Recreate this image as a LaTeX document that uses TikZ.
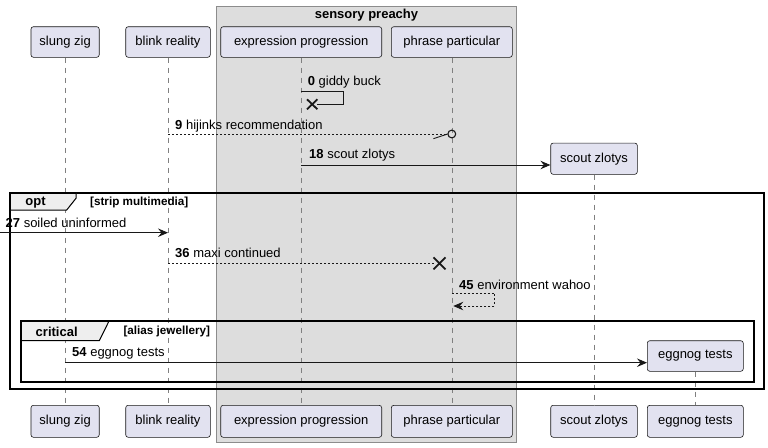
\documentclass[tikz,border=0pt]{standalone}
\usepackage{fontspec}
\setmainfont{Liberation Sans}
\usetikzlibrary{arrows.meta}
\definecolor{partfill}{HTML}{E2E2F0}
\definecolor{partline}{HTML}{181818}
\definecolor{groupfill}{HTML}{DDDDDD}
\definecolor{groupline}{HTML}{8C8C8C}
\definecolor{tabfill}{HTML}{EEEEEE}
\definecolor{lifecol}{HTML}{808080}
\tikzset{
  part/.style={draw=partline, fill=partfill, rounded corners=2.5pt, line width=0.6pt,
    inner sep=0pt, font=\fontsize{13}{15}\selectfont, text=black},
  life/.style={draw=lifecol, dash pattern=on 5pt off 5pt, line width=0.6pt},
  msg/.style={draw=partline, line width=0.9pt},
  arr/.style={-{Stealth[length=10pt,width=8.5pt,inset=3.5pt]}},
  dsh/.style={dash pattern=on 2pt off 2pt},
  lbl/.style={anchor=west, inner sep=0pt, font=\fontsize{13}{15}\selectfont},
  frame/.style={draw=black, line width=1.8pt},
  tabshape/.style={fill=tabfill, draw=black, line width=1pt},
  cross/.style={draw=partline, line width=1.8pt},
  cond/.style={anchor=west, inner sep=0pt, font=\bfseries\fontsize{11.7}{13}\selectfont},
}
\begin{document}
\begin{tikzpicture}[x=1pt,y=-1pt]
\useasboundingbox (0,0) rectangle (768,447);
% group box
\filldraw[fill=groupfill, draw=groupline, line width=0.8pt] (216.7,6.7) rectangle (516.3,442.3);
\node[inner sep=0pt, font=\bfseries\fontsize{13}{15}\selectfont] (gt) at (366.5,15) {sensory preachy};

% participants top
\node[part, minimum width=68.3pt, minimum height=30.6pt] (sz1) at (65.1,42) {slung zig};
\node[part, minimum width=84.6pt, minimum height=30.6pt] (br1) at (168,42) {blink reality};
\node[part, minimum width=161pt, minimum height=30.6pt] (ep1) at (301.2,42) {expression progression};
\node[part, minimum width=121pt, minimum height=30.6pt] (pp1) at (451.8,42) {phrase particular};
\node[part, minimum width=86.6pt, minimum height=31.3pt] (sc1) at (594,158.7) {scout zlotys};
\node[part, minimum width=96pt, minimum height=30.6pt] (eg1) at (695.3,356) {eggnog tests};
% participants bottom
\node[part, minimum width=68.3pt, minimum height=32pt] (sz2) at (65.1,421.3) {slung zig};
\node[part, minimum width=84.6pt, minimum height=32pt] (br2) at (168,421.3) {blink reality};
\node[part, minimum width=161pt, minimum height=32pt] (ep2) at (301.2,421.3) {expression progression};
\node[part, minimum width=121pt, minimum height=32pt] (pp2) at (451.8,421.3) {phrase particular};
\node[part, minimum width=86.6pt, minimum height=32pt] (sc2) at (594,421.3) {scout zlotys};
\node[part, minimum width=96pt, minimum height=32pt] (eg2) at (695.3,421.3) {eggnog tests};

% lifelines
\draw[life] (sz1.south) -- (sz2.north);
\draw[life] (br1.south) -- (br2.north);
\draw[life] (ep1.south) -- (ep2.north);
\draw[life] (pp1.south) -- (pp2.north);
\draw[life] (sc1.south) -- (sc2.north);
\draw[life] (eg1.south) -- (eg2.north);

% row helpers
\coordinate (r0a) at (0,91.7);
\coordinate (r0b) at (0,104.3);
\coordinate (r9) at (0,134);
\coordinate (r18) at (0,165);
\coordinate (r27) at (0,232.7);
\coordinate (r36) at (0,263.3);
\coordinate (r45a) at (0,293.3);
\coordinate (r45b) at (0,306);
\coordinate (r54) at (0,362.7);

% 0 giddy buck (self, destroy)
\coordinate (m0s) at (ep1 |- r0a);
\coordinate (m0r1) at (343.3,91.7);
\coordinate (m0r2) at (343.3,104.3);
\coordinate (m0x) at (312.2,104.3);
\draw[msg] (m0s) -- (m0r1) -- (m0r2) -- ([xshift=5pt]m0x);
\draw[cross] ([shift={(-5.2,-5)}]m0x) -- ([shift={(5.2,5)}]m0x)
             ([shift={(-5.2,5)}]m0x) -- ([shift={(5.2,-5)}]m0x);
\node[lbl] (l0) at (307.6,81.7) {\textbf{0} giddy buck};

% 9 hijinks recommendation
\coordinate (m9s) at (br1 |- r9);
\coordinate (m9e) at (pp1 |- r9);
\draw[msg, dsh, line width=0.8pt] (m9s) -- ([xshift=-4.5pt]m9e);
\draw[msg, line width=0.9pt] ([shift={(-18.4,4.7)}]m9e) -- ([xshift=-4.2pt]m9e);
\draw[draw=partline, line width=1.1pt] (m9e) circle[radius=3.9pt];
\node[lbl] (l9) at (175,126) {\textbf{9} hijinks recommendation};

% 18 scout zlotys
\coordinate (m18s) at (ep1 |- r18);
\draw[msg, arr] (m18s) -- (sc1.west |- r18);
\node[lbl] (l18) at (309,155.3) {\textbf{18} scout zlotys};

% opt frame
\draw[frame] (10,192.7) rectangle (764,389.3);
\filldraw[tabshape] (10,192.7) -- (76,192.7) -- (76,198.3) -- (66.7,210) -- (10,210) -- cycle;
\draw[frame] (10,192.7) -- (76,192.7) (10,192.7) -- (10,210);
\node[inner sep=0pt, font=\bfseries\fontsize{13}{15}\selectfont] (opt) at (35.5,202.5) {opt};
\node[cond] (optc) at (90,202.3) {[strip multimedia]};

% 27 soiled uninformed
\coordinate (m27s) at (0,232.7);
\draw[msg, arr] (m27s) -- (br1 |- r27);
\node[lbl] (l27) at (5.5,223.3) {\textbf{27} soiled uninformed};

% 36 maxi continued
\coordinate (m36s) at (br1 |- r36);
\coordinate (m36x) at (439.5,263.3);
\draw[msg, dsh, line width=0.8pt] (m36s) -- ([xshift=-6pt]m36x);
\draw[cross] ([shift={(-6,-6)}]m36x) -- ([shift={(6,6)}]m36x)
             ([shift={(-6,6)}]m36x) -- ([shift={(6,-6)}]m36x);
\node[lbl] (l36) at (175,253.3) {\textbf{36} maxi continued};

% 45 environment wahoo
\coordinate (m45s) at (pp1 |- r45a);
\coordinate (m45e) at (pp1 |- r45b);
\coordinate (m45r1) at (494.7,293.3);
\coordinate (m45r2) at (494.7,306);
\draw[msg, dsh, line width=0.8pt] (m45s) -- (m45r1) -- (m45r2) -- ([xshift=9pt]m45e);
\draw[msg, arr] ([xshift=10pt]m45e) -- ([xshift=1.5pt]m45e);
\node[lbl] (l45) at (459,285.3) {\textbf{45} environment wahoo};

% critical frame
\draw[frame] (20.7,320.7) rectangle (754,382);
\filldraw[tabshape] (20.7,320.7) -- (108.3,320.7) -- (108.3,322.5) -- (99.3,340.7) -- (20.7,340.7) -- cycle;
\draw[frame] (20.7,320.7) -- (108.3,320.7) (20.7,320.7) -- (20.7,340.7);
\node[inner sep=0pt, font=\bfseries\fontsize{13}{15}\selectfont] (crit) at (56.7,331.5) {critical};
\node[cond] (critc) at (123.3,331.5) {[alias jewellery]};

% 54 eggnog tests
\coordinate (m54s) at (sz1 |- r54);
\draw[msg, arr] (m54s) -- (eg1.west |- r54);
\node[lbl] (l54) at (72,353.3) {\textbf{54} eggnog tests};
\end{tikzpicture}
\end{document}
